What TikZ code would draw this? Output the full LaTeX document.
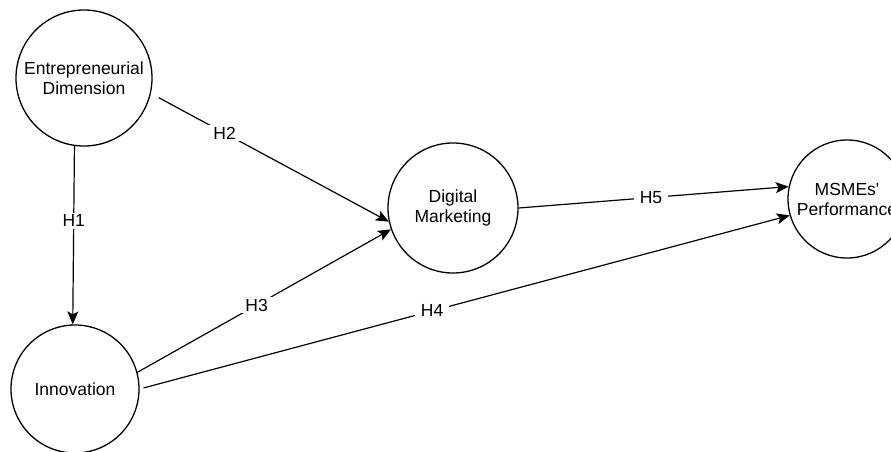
\documentclass[tikz,border=0pt]{standalone}
\usepackage{fontspec}
\setmainfont{Liberation Sans}
\usetikzlibrary{arrows.meta}
\tikzstyle{construct} = [draw, shape=circle, line width=1.3pt, inner sep=0pt, align=center]
\tikzstyle{hyp} = [line width=1.2pt, -{Stealth[length=13pt,width=11pt,inset=3pt]}]
\tikzstyle{hlabel} = [fill=white, inner xsep=6pt, inner ysep=2pt]

\begin{document}
\begin{tikzpicture}[x=1pt, y=-1pt, font=\fontsize{17.5pt}{20pt}\selectfont]
    \useasboundingbox (0,0) rectangle (891,452);
    \draw (84,78) node[construct, minimum size=136pt] (entre) {Entrepreneurial\\Dimension};
    \draw (75,389) node[construct, minimum size=128pt] (innov) {Innovation};
    \draw (453,208) node[construct, minimum size=130pt] (digital) {Digital\\Marketing};
    \draw (847,199) node[construct, minimum size=118pt] (msme) {MSMEs\textquotesingle\\Performance};
    \draw [hyp] (entre.-98) -- node [hlabel, pos=.42] (h1) {H1} (innov.92);
    \draw [hyp, shorten <=9pt] (entre.-13) -- node [hlabel, pos=.31] (h2) {H2} (digital.192);
    \draw [hyp] (innov.15) -- node [hlabel, pos=.47] (h3) {H3} (digital.199);
    \draw [hyp, shorten <=4pt] (innov.east) -- node [hlabel, pos=.45] (h4) {H4} (msme.196);
    \draw [hyp] (digital.east) -- node [hlabel, pos=.49] (h5) {H5} (msme.168);
\end{tikzpicture}
\end{document}
